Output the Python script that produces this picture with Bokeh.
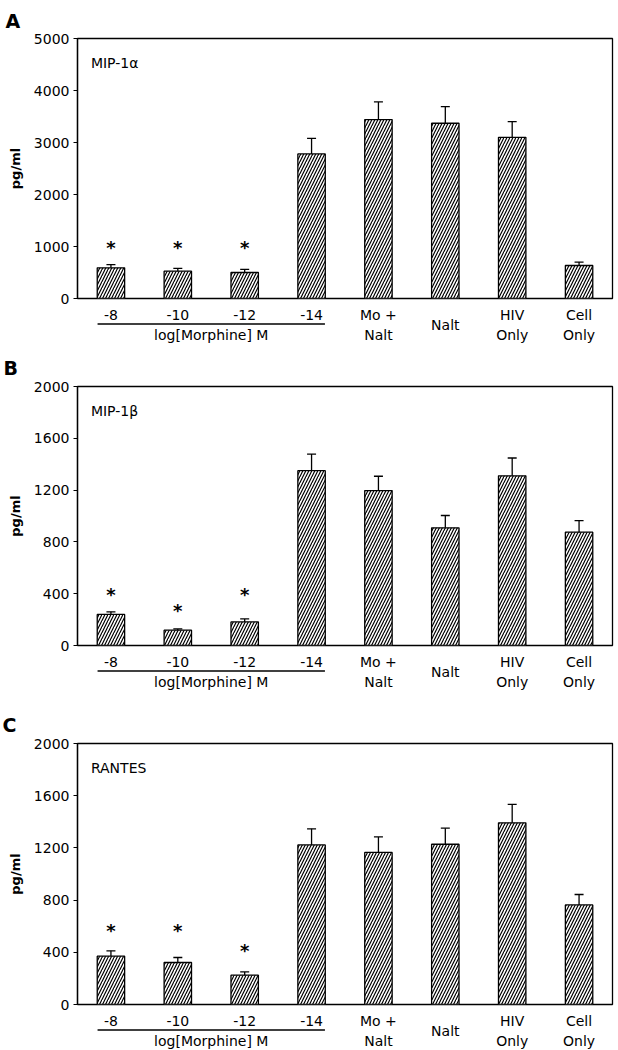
from bokeh.plotting import figure
from bokeh.models import Range1d, FixedTicker, Label, Whisker, TeeHead, ColumnDataSource
from bokeh.layouts import column
from bokeh.embed import file_html
from bokeh.resources import INLINE

# ---------------- data ----------------
categories = ["-8", "-10", "-12", "-14", "Mo +\nNalt", "Nalt", "HIV\nOnly", "Cell\nOnly"]
n_morphine = 4
group_label = "log[Morphine] M"

panel_letters = ["A", "B", "C"]
panel_names = ["MIP-1α", "MIP-1β", "RANTES"]
y_max = [5000, 2000, 2000]
ticks_a = [0, 1000, 2000, 3000, 4000, 5000]
ticks_bc = [0, 400, 800, 1200, 1600, 2000]

mip1a = [590, 525, 500, 2780, 3440, 3370, 3100, 635]
mip1a_err = [60, 55, 60, 300, 340, 320, 300, 65]
mip1b = [240, 118, 182, 1350, 1196, 909, 1310, 875]
mip1b_err = [20, 10, 23, 128, 111, 95, 138, 90]
rantes = [370, 322, 225, 1223, 1165, 1228, 1392, 763]
rantes_err = [41, 38, 25, 123, 119, 123, 141, 80]

stars_a = [980, 980, 980]
stars_b = [395, 272, 395]
stars_c = [570, 570, 417]

FONT = "DejaVu Sans"
W = 618
GAP = 9   # px between frame bottom and label strip


def base_fig(height, left, right, top, bottom, x_range, y_range):
    p = figure(width=W, height=height, x_range=x_range, y_range=y_range,
               output_backend="svg", toolbar_location=None,
               min_border_left=left, min_border_right=right,
               min_border_top=top, min_border_bottom=bottom)
    p.background_fill_color = "white"
    p.border_fill_color = "white"
    p.xgrid.visible = False
    p.ygrid.visible = False
    return p


def make_panel(letter, name, vals, errs, stars, ymax, ticks,
               left, right, top_b, frame_h, strip_h, title_standoff):
    xr = Range1d(0, len(categories))
    p = base_fig(top_b + frame_h + GAP, left, right, top_b, GAP, xr, Range1d(0, ymax))
    p.xaxis.visible = False
    p.outline_line_color = "black"
    p.outline_line_width = 1.3
    p.outline_line_alpha = 1.0

    ax = p.yaxis[0]
    ax.ticker = FixedTicker(ticks=ticks)
    ax.axis_line_color = "black"
    ax.axis_line_width = 1.3
    ax.major_tick_out = 4
    ax.major_tick_in = 0
    ax.minor_tick_line_color = None
    ax.major_tick_line_color = "black"
    ax.major_label_standoff = 4
    ax.major_label_text_font = FONT
    ax.major_label_text_font_size = "14px"
    ax.major_label_text_color = "black"
    ax.axis_label = "pg/ml"
    ax.axis_label_text_font = FONT
    ax.axis_label_text_font_style = "bold"
    ax.axis_label_text_font_size = "13px"
    ax.axis_label_text_color = "black"
    ax.axis_label_standoff = 8

    # panel letter as title
    p.title.text = letter
    p.title.align = "left"
    p.title.offset = -(left - 2)
    p.title.standoff = title_standoff
    p.title.text_font = FONT
    p.title.text_font_style = "bold"
    p.title.text_font_size = "19px"
    p.title.text_color = "black"

    xs = [i + 0.5 for i in range(len(categories))]
    dpp = ymax / frame_h

    p.vbar(x=xs, top=vals, width=0.41, bottom=0,
           fill_color="white", line_color="black", line_width=1.3,
           hatch_pattern="/", hatch_scale=6, hatch_weight=1.2, hatch_color="black")

    src = ColumnDataSource(dict(x=xs,
                                upper=[v + e for v, e in zip(vals, errs)],
                                lower=[v - e for v, e in zip(vals, errs)]))
    p.add_layout(Whisker(base="x", upper="upper", lower="lower", source=src,
                         dimension="height", line_color="black", line_width=1.3,
                         upper_head=TeeHead(size=9, line_width=1.3, line_color="black"),
                         lower_head=None))

    for i, s in enumerate(stars):
        p.add_layout(Label(x=xs[i], y=s, text="*", text_align="center",
                           text_baseline="middle", text_font=FONT,
                           text_font_style="bold", text_font_size="18px",
                           text_color="black"))

    p.add_layout(Label(x=0.2, y=ymax - 24 * dpp, text=name, text_align="left",
                       text_baseline="middle", text_font=FONT,
                       text_font_size="14px", text_color="black"))

    # ---- label strip below the frame (y = px below the frame bottom) ----
    s = base_fig(strip_h, left, right, 0, 0, xr, Range1d(start=GAP + strip_h, end=GAP))
    s.xaxis.visible = False
    s.yaxis.visible = False
    s.outline_line_color = None

    tx, ty, tt = [], [], []
    for i, cat in enumerate(categories):
        lines = cat.split("\n")
        if len(lines) == 2:
            rows = [16, 36]
        elif i < n_morphine:
            rows = [16]
        else:
            rows = [26.5]
        for line, r in zip(lines, rows):
            tx.append(xs[i]); ty.append(r); tt.append(line)
    tx.append((xs[0] + xs[n_morphine - 1]) / 2); ty.append(36); tt.append(group_label)
    s.text(x=tx, y=ty, text=tt, text_align="center", text_baseline="middle",
           text_font={"value": FONT}, text_font_size="14px", text_color="black")
    s.segment(x0=[xs[0] - 0.2], x1=[xs[n_morphine - 1] + 0.2], y0=[25.5], y1=[25.5],
              line_color="black", line_width=1.3)
    return p, s


pa, sa = make_panel(panel_letters[0], panel_names[0], mip1a, mip1a_err, stars_a,
                    y_max[0], ticks_a, 74, 6, 38, 260, 38, 14)
pb, sb = make_panel(panel_letters[1], panel_names[1], mip1b, mip1b_err, stars_b,
                    y_max[1], ticks_bc, 76, 5, 41, 259, 46, 16)
pc, sc = make_panel(panel_letters[2], panel_names[2], rantes, rantes_err, stars_c,
                    y_max[2], ticks_bc, 77, 2, 43, 261, 36, 16)

layout = column(pa, sa, pb, sb, pc, sc, spacing=0)
open("out.html", "w").write(file_html(layout, INLINE))
